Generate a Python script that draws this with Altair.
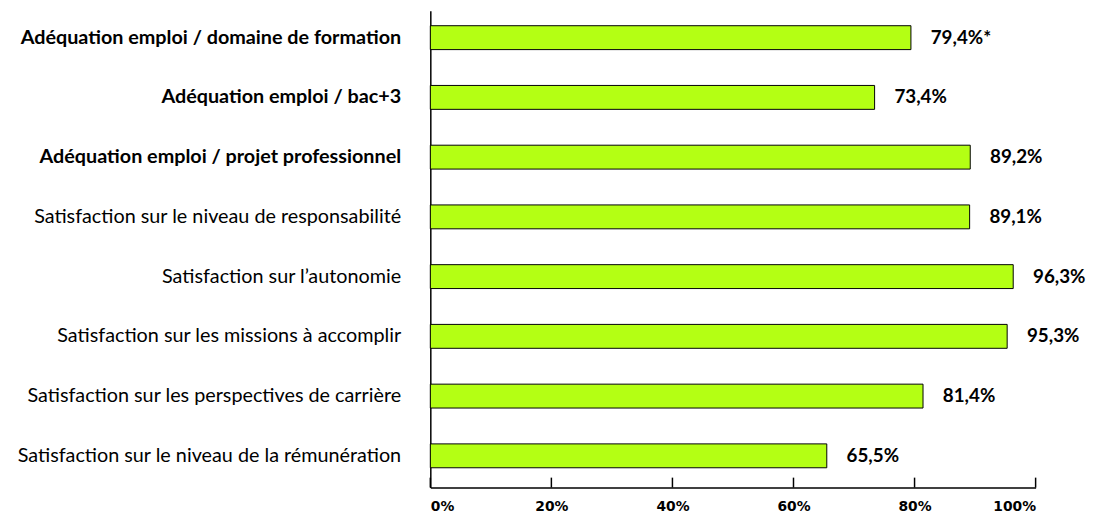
import altair as alt
import pandas as pd

categories = [
    "Adéquation emploi / domaine de formation",
    "Adéquation emploi / bac+3",
    "Adéquation emploi / projet professionnel",
    "Satisfaction sur le niveau de responsabilité",
    "Satisfaction sur l\u2019autonomie",
    "Satisfaction sur les missions à accomplir",
    "Satisfaction sur les perspectives de carrière",
    "Satisfaction sur le niveau de la rémunération",
]
values = [79.4, 73.4, 89.2, 89.1, 96.3, 95.3, 81.4, 65.5]
value_labels = ["79,4%*", "73,4%", "89,2%", "89,1%", "96,3%", "95,3%", "81,4%", "65,5%"]
tick_values = [0, 20, 40, 60, 80, 100]

df = pd.DataFrame({"cat": categories, "val": values, "lab": value_labels})
ticks_df = pd.DataFrame({"t": tick_values})

W, H = 612, 482

xscale = alt.Scale(domain=[0, 100], nice=False)
yscale = alt.Scale(domain=categories, paddingInner=0.6, paddingOuter=0.29, align=0.43)

bars = alt.Chart(df).mark_bar(
    color="#B4FF14", stroke="#000000", strokeWidth=1
).encode(
    x=alt.X("val:Q", scale=xscale, title=None,
            axis=alt.Axis(values=tick_values, labelExpr="datum.value + '%'",
                          tickSize=0, labelPadding=12, grid=False,
                          domainColor="#000", domainWidth=1.5,
                          labelFont="DejaVu Sans", labelFontWeight=900,
                          labelFontSize=14, labelColor="#000")),
    y=alt.Y("cat:N", scale=yscale, sort=categories, title=None,
            axis=alt.Axis(ticks=False, domainColor="#000", domainWidth=1.5,
                          labelPadding=30, labelLimit=600, labelFont="Lato",
                          labelFontSize=20, labelColor="#000",
                          labelFontWeight=alt.ExprRef(
                              "indexof(datum.value, 'Adéquation') === 0 ? 'bold' : 'normal'"))),
)

texts = alt.Chart(df).mark_text(
    align="left", baseline="middle", dx=20, font="Lato", fontWeight="bold",
    fontSize=19, color="#000"
).encode(
    x=alt.X("val:Q", scale=xscale),
    y=alt.Y("cat:N", scale=yscale, sort=categories),
    text="lab:N",
)

tickmarks = alt.Chart(ticks_df).mark_rule(color="#000", strokeWidth=1.5).encode(
    x=alt.X("t:Q", scale=xscale),
    y=alt.value(H),
    y2=alt.value(H - 10),
)

chart = alt.layer(bars, texts, tickmarks).properties(
    width=W, height=H, background="white",
    padding={"left": 8, "top": 0, "right": 5, "bottom": 5}
).configure_view(strokeWidth=0, stroke="transparent")

chart.save("out.html", embed_options={"renderer": "svg", "actions": False})
